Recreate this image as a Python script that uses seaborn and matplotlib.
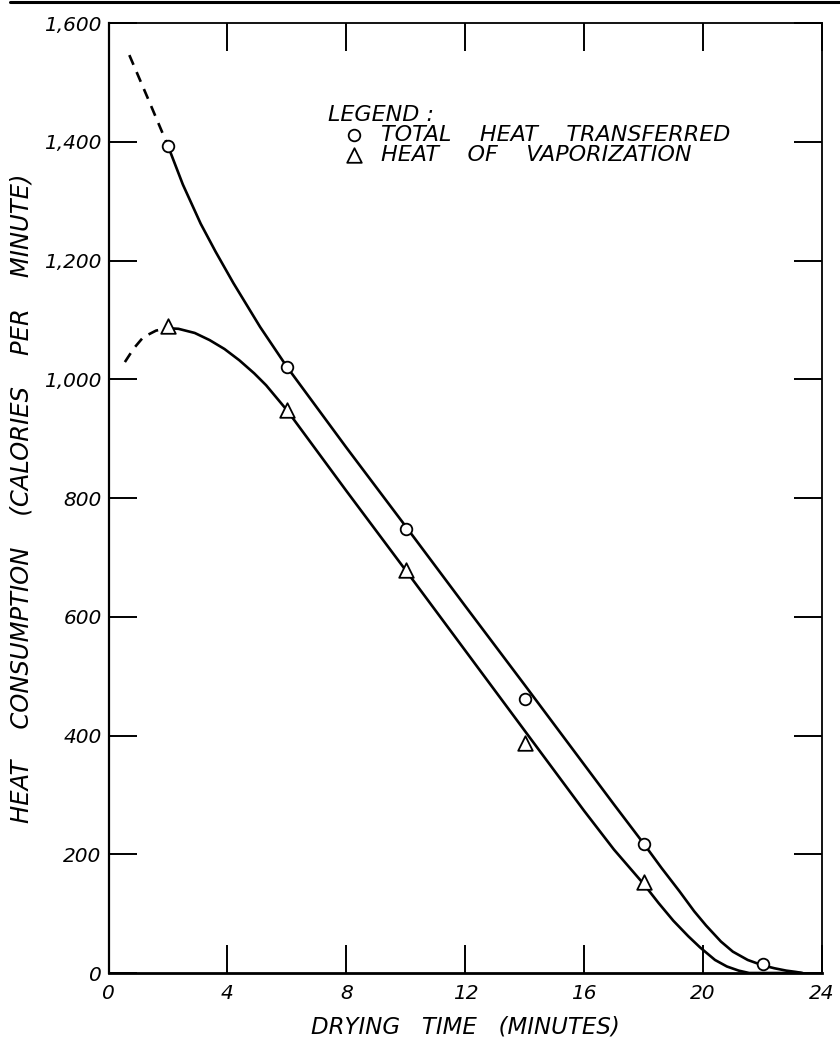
import matplotlib
matplotlib.use("Agg")
import matplotlib.pyplot as plt
import matplotlib.lines as mlines
import seaborn as sns
import pandas as pd

# ---- data ----
time_total = [2, 6, 10, 14, 18, 22]
heat_total = [1393, 1021, 748, 462, 218, 16]

time_vap = [2, 6, 10, 14, 18]
heat_vap = [1090, 948, 678, 388, 154]

# fitted (hand-drawn) curves
curve_total_dash_x = [0.7, 1.35, 2.0]
curve_total_dash_y = [1546, 1470, 1393]
curve_total_x = [2.0, 2.5, 3.1, 3.6, 4.2, 5.1, 6.0, 8.0, 10.0, 12.0, 14.0, 16.0, 17.0, 18.0,
                 18.6, 19.2, 19.7, 20.1, 20.6, 21.0, 21.5, 22.0, 22.4, 22.8, 23.1, 23.35]
curve_total_y = [1393, 1328, 1262, 1215, 1162, 1088, 1021, 885, 752, 618, 485, 351, 284, 218,
                 177, 138, 104, 80, 53, 36, 22, 13, 8, 4, 2, 0]

curve_vap_dash_x = [0.55, 0.85, 1.17, 1.6, 2.0]
curve_vap_dash_y = [1029, 1052, 1071, 1082, 1086]
curve_vap_x = [2.0, 2.35, 2.9, 3.4, 3.9, 4.4, 4.9, 5.3, 6.0, 8.0, 10.0, 12.0, 14.0, 16.0,
               17.0, 18.0, 18.5, 19.0, 19.5, 19.9, 20.4, 20.8, 21.2, 21.55, 22.5, 23.3]
curve_vap_y = [1086, 1085, 1078, 1066, 1051, 1032, 1010, 990, 948, 812, 678, 543, 408, 273,
               208, 150, 118, 88, 62, 43, 22, 11, 4, 0, 0, 0]

xticks = [0, 4, 8, 12, 16, 20, 24]
yticks = [0, 200, 400, 600, 800, 1000, 1200, 1400, 1600]
ytick_labels = ["0", "200", "400", "600", "800", "1,000", "1,200", "1,400", "1,600"]

label_total = "TOTAL    HEAT    TRANSFERRED"
label_vap = "HEAT    OF    VAPORIZATION"

# ---- style ----
sns.set_theme(style="ticks")
plt.rcParams["font.family"] = ["DejaVu Sans"]
plt.rcParams["font.style"] = "italic"
for k in ["text.color", "axes.labelcolor", "xtick.color", "ytick.color",
          "xtick.labelcolor", "ytick.labelcolor", "axes.edgecolor"]:
    plt.rcParams[k] = "black"

fig = plt.figure(figsize=(8.4, 10.42), dpi=100)
ax = fig.add_axes([0.1292, 0.0662, 0.8494, 0.9117])

lw = 1.9
dash = (0, (4, 3))
sns.lineplot(x=curve_total_x, y=curve_total_y, ax=ax, color="black", lw=lw, sort=False,
             estimator=None)
sns.lineplot(x=curve_total_dash_x, y=curve_total_dash_y, ax=ax, color="black", lw=lw,
             sort=False, estimator=None, linestyle=dash)
sns.lineplot(x=curve_vap_x, y=curve_vap_y, ax=ax, color="black", lw=lw, sort=False,
             estimator=None)
sns.lineplot(x=curve_vap_dash_x, y=curve_vap_dash_y, ax=ax, color="black", lw=lw,
             sort=False, estimator=None, linestyle=dash)

df_t = pd.DataFrame({"t": time_total, "h": heat_total})
df_v = pd.DataFrame({"t": time_vap, "h": heat_vap})
sns.scatterplot(data=df_t, x="t", y="h", ax=ax, marker="o", s=70, facecolor="white",
                edgecolor="black", linewidth=1.3, zorder=5, label=label_total)
sns.scatterplot(data=df_v, x="t", y="h", ax=ax, marker="^", s=110, facecolor="white",
                edgecolor="black", linewidth=1.3, zorder=5, label=label_vap)

ax.set_xlim(0, 24)
ax.set_ylim(0, 1600)
ax.set_xticks(xticks)
ax.set_xticklabels([str(v) for v in xticks])
ax.set_yticks(yticks)
ax.set_yticklabels(ytick_labels)

ax.tick_params(axis="both", direction="in", length=20, width=1.4, color="black",
               labelsize=14.5, labelcolor="black")
ax.tick_params(axis="x", top=True, bottom=True, pad=8)
ax.tick_params(axis="y", left=True, right=True, pad=5)

for side in ["left", "right", "top", "bottom"]:
    ax.spines[side].set_visible(True)
    ax.spines[side].set_color("black")
ax.spines["left"].set_linewidth(1.6)
ax.spines["right"].set_linewidth(1.3)
ax.spines["top"].set_linewidth(1.3)
ax.spines["bottom"].set_linewidth(2.0)

ax.set_xlabel("DRYING   TIME   (MINUTES)", fontsize=16.5, style="italic", labelpad=9,
              color="black")
ax.set_ylabel("HEAT    CONSUMPTION    (CALORIES    PER    MINUTE)", fontsize=17.5,
              style="italic", labelpad=8, color="black")

handles, labels = ax.get_legend_handles_labels()
leg = ax.legend(handles, labels, title="LEGEND :", loc="upper left",
                bbox_to_anchor=(0.3076, 0.914), frameon=False, fontsize=16,
                title_fontsize=16, alignment="left", handlelength=2.3,
                handletextpad=0.1, labelspacing=0.0, borderpad=0, borderaxespad=0)
leg.get_title().set_style("italic")
leg.get_title().set_color("black")
for t in leg.get_texts():
    t.set_color("black")

# rule across the top of the page
fig.add_artist(mlines.Line2D([0.012, 1.0], [0.9985, 0.9985], color="black", lw=2.2,
                             transform=fig.transFigure))

fig.savefig("out.png", dpi=100, facecolor="white")
